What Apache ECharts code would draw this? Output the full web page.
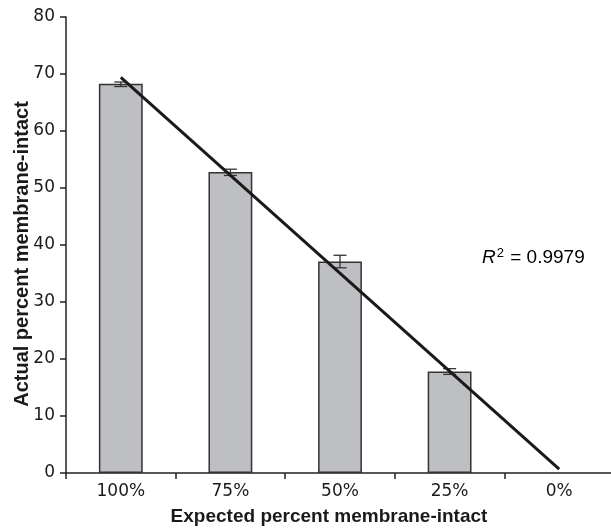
<!DOCTYPE html>
<html>
<head>
<meta charset="utf-8">
<script src="https://cdn.jsdelivr.net/npm/echarts@6/dist/echarts.min.js"></script>
<style>html,body{margin:0;padding:0;background:#fff;}#c{width:611px;height:528px;}</style>
</head>
<body>
<div id="c"></div>
<script>
var categories = ['100%', '75%', '50%', '25%', '0%'];
var actualValues = [68.3, 52.8, 37.1, 17.8, 0];
var errLow = [67.8, 52.2, 36.0, 17.3, null];
var errHigh = [68.6, 53.3, 38.2, 18.3, null];
var trendLine = [69.4, '-', '-', '-', 0.7];
var yTicks = { min: 0, max: 80, interval: 10 };
var rSquared = '0.9979';

var chart = echarts.init(document.getElementById('c'), null, { renderer: 'canvas' });
var tickFont = { fontFamily: 'DejaVu Sans', fontSize: 17, color: '#1a1a1a' };

var errData = [];
for (var i = 0; i < categories.length; i++) {
  if (errLow[i] != null) errData.push([i, errLow[i], errHigh[i]]);
}
var barData = actualValues.map(function (v) {
  return v === 0 ? { value: v, itemStyle: { borderWidth: 0, opacity: 0 } } : v;
});

chart.setOption({
  animation: false,
  backgroundColor: '#fff',
  grid: { left: 66, top: 17, width: 548, bottom: 55, containLabel: false, outerBoundsMode: 'none' },
  xAxis: {
    type: 'category',
    data: categories,
    boundaryGap: true,
    axisLine: { lineStyle: { color: '#222', width: 1.5 } },
    axisTick: { show: true, length: 6, inside: false, lineStyle: { color: '#222', width: 1.5 } },
    axisLabel: Object.assign({ margin: 10 }, tickFont),
    splitLine: { show: false }
  },
  yAxis: {
    type: 'value',
    min: yTicks.min, max: yTicks.max, interval: yTicks.interval,
    axisLine: { show: true, lineStyle: { color: '#222', width: 1.5 } },
    axisTick: { show: true, length: 6, lineStyle: { color: '#222', width: 1.5 } },
    axisLabel: Object.assign({ margin: 11 }, tickFont),
    splitLine: { show: false }
  },
  graphic: [
    {
      type: 'text', x: 329, y: 517,
      style: { text: 'Expected percent membrane-intact', font: 'bold 19px "Liberation Sans", Arial', fill: '#1a1a1a', textAlign: 'center', textVerticalAlign: 'middle' }
    },
    {
      type: 'text', x: 22, y: 254, rotation: Math.PI / 2,
      style: { text: 'Actual percent membrane-intact', font: 'bold 20px "Liberation Sans", Arial', fill: '#1a1a1a', textAlign: 'center', textVerticalAlign: 'middle' }
    },
    {
      type: 'text', x: 482, y: 258,
      style: {
        text: '{i|R}{s|2}{n| = ' + rSquared + '}',
        textVerticalAlign: 'middle',
        rich: {
          i: { fontFamily: 'Liberation Sans', fontStyle: 'italic', fontSize: 19, color: '#1a1a1a' },
          s: { fontFamily: 'Liberation Sans', fontSize: 13, verticalAlign: 'top', padding: [0, 1, 9, 1], color: '#1a1a1a' },
          n: { fontFamily: 'Liberation Sans', fontSize: 19, color: '#1a1a1a' }
        }
      }
    }
  ],
  series: [
    {
      type: 'bar',
      data: barData,
      barWidth: '40%',
      itemStyle: { color: '#bebfc3', borderColor: '#333', borderWidth: 1.5 },
      z: 2
    },
    {
      type: 'custom',
      data: errData,
      z: 3,
      renderItem: function (params, api) {
        var x = api.value(0);
        var lo = api.coord([x, api.value(1)]);
        var hi = api.coord([x, api.value(2)]);
        var cap = 6.5;
        var st = { stroke: '#333', lineWidth: 1.3 };
        return {
          type: 'group',
          children: [
            { type: 'line', shape: { x1: lo[0], y1: lo[1], x2: hi[0], y2: hi[1] }, style: st },
            { type: 'line', shape: { x1: lo[0] - cap, y1: lo[1], x2: lo[0] + cap, y2: lo[1] }, style: st },
            { type: 'line', shape: { x1: hi[0] - cap, y1: hi[1], x2: hi[0] + cap, y2: hi[1] }, style: st }
          ]
        };
      }
    },
    {
      type: 'line',
      data: trendLine,
      connectNulls: true,
      symbol: 'none',
      lineStyle: { color: '#1a1a1a', width: 3 },
      z: 4
    }
  ]
});
</script>
</body>
</html>
